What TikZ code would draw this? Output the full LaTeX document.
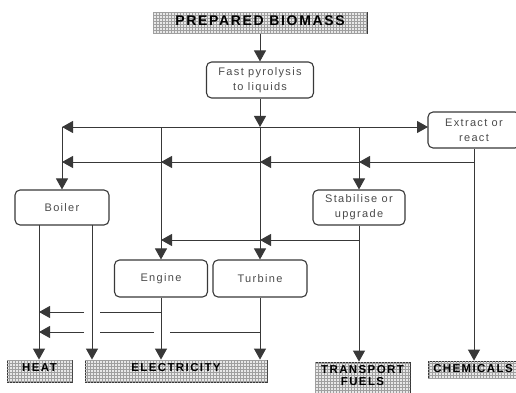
\documentclass[tikz,border=0pt]{standalone}
\usepackage{fontspec}
\setmainfont{Liberation Sans}
\newfontfamily\lblfont[LetterSpace=12]{Liberation Sans}
\usetikzlibrary{arrows.meta,patterns}
\definecolor{ln}{HTML}{383838}
\definecolor{tx}{HTML}{4A4A4A}
\begin{document}
\begin{tikzpicture}[x=1pt,y=-1pt,
  proc/.style={draw=ln, line width=1.1pt, rounded corners=5pt, text=tx,
    font=\lblfont\fontsize{11}{15}\selectfont, align=center, inner sep=0pt},
  outbox/.style={draw=ln, line width=0.8pt, fill=gray!18,
    postaction={pattern=grid, pattern color=gray!75},
    font=\lblfont\bfseries\fontsize{11.5}{13}\selectfont, text=black,
    inner sep=2pt, text height=9.5pt},
  conn/.style={draw=ln, line width=1pt},
  arr/.style={conn, -{Triangle[width=12pt,length=11pt]}}
]
\useasboundingbox (0,0) rectangle (516,393);

% process boxes
\node[outbox, minimum width=214pt, minimum height=21pt, text height=10.5pt, text depth=4.5pt,
  font=\lblfont\bfseries\fontsize{14}{16}\selectfont] (bio) at (260,23) {PREPARED BIOMASS};
\node[proc, minimum width=107pt, minimum height=36pt] (pyro) at (260,80) {Fast pyrolysis\\to liquids};
\node[proc, minimum width=92pt, minimum height=36pt] (extract) at (474,130) {Extract or\\react};
\node[proc, minimum width=94pt, minimum height=35pt] (boiler) at (62,207.5) {Boiler};
\node[proc, minimum width=92pt, minimum height=35pt] (stab) at (359,207.5) {Stabilise or\\upgrade};
\node[proc, minimum width=93pt, minimum height=37pt] (engine) at (161,278.5) {Engine};
\node[proc, minimum width=94pt, minimum height=37pt] (turbine) at (260,278.5) {Turbine};

% outputs
\node[outbox, minimum width=65pt, minimum height=22pt, text depth=8.5pt] (heat) at (39.5,371) {HEAT};
\node[outbox, minimum width=182pt, minimum height=22pt, text depth=8.5pt] (elec) at (176,371) {ELECTRICITY};
\node[outbox, minimum width=95pt, minimum height=35pt, text depth=21.5pt] (trans) at (362.5,379.5)
  {\begin{tabular}[t]{@{}c@{}}TRANSPORT\\[-1.5pt]FUELS\end{tabular}};
\node[outbox, minimum width=90pt, minimum height=17pt, text height=9pt, text depth=4pt] (chem) at (473,369.5) {CHEMICALS};

% junction points
\coordinate (r1c) at (260,127);
\coordinate (r1l) at (62,127);
\coordinate (r1e) at (161,127);
\coordinate (r1s) at (359,127);
\coordinate (r1x) at (428,127);
\coordinate (r2x) at (474,162);
\coordinate (r2s) at (359,162);
\coordinate (r2c) at (260,162);
\coordinate (r2e) at (161,162);
\coordinate (r2l) at (62,162);
\coordinate (r3s) at (359,240);
\coordinate (r3c) at (260,240);
\coordinate (r3e) at (161,240);
\coordinate (bo1) at (39,225);
\coordinate (bo2) at (92,225);
\coordinate (e4) at (161,312);
\coordinate (g4a) at (100,312);
\coordinate (g4b) at (84,312);
\coordinate (h4) at (39,312);
\coordinate (t5) at (260,332);
\coordinate (g5a) at (170,332);
\coordinate (g5b) at (154,332);
\coordinate (g5c) at (100,332);
\coordinate (g5d) at (84,332);
\coordinate (h5) at (39,332);

% main flow
\draw[arr] (bio.south) -- (pyro.north);
\draw[arr] (pyro.south) -- (r1c);
\draw[arr] (r1c) -- (turbine.north);
\draw[arr] (r1c) -- (r1l);
\draw[arr] (r1l) -- (boiler.north);
\draw[arr] (r1c) -- (r1x);
\draw[arr] (r1e) -- (engine.north);
\draw[arr] (r1s) -- (stab.north);

% from extract
\draw[arr] (extract.south) -- (extract.south |- chem.north);
\draw[arr] (r2x) -- (r2s);
\draw[arr] (r2s) -- (r2c);
\draw[arr] (r2c) -- (r2e);
\draw[arr] (r2e) -- (r2l);

% from stabilise
\draw[arr] (stab.south) -- (stab.south |- trans.north);
\draw[arr] (r3s) -- (r3c);
\draw[arr] (r3c) -- (r3e);

% boiler outputs
\draw[arr] (bo1) -- (bo1 |- heat.north);
\draw[arr] (bo2) -- (bo2 |- elec.north);

% engine / turbine outputs
\draw[arr] (engine.south) -- (engine.south |- elec.north);
\draw[arr] (turbine.south) -- (turbine.south |- elec.north);
\draw[conn] (e4) -- (g4a);
\draw[arr] (g4b) -- (h4);
\draw[conn] (t5) -- (g5a);
\draw[conn] (g5b) -- (g5c);
\draw[arr] (g5d) -- (h5);
\end{tikzpicture}
\end{document}
